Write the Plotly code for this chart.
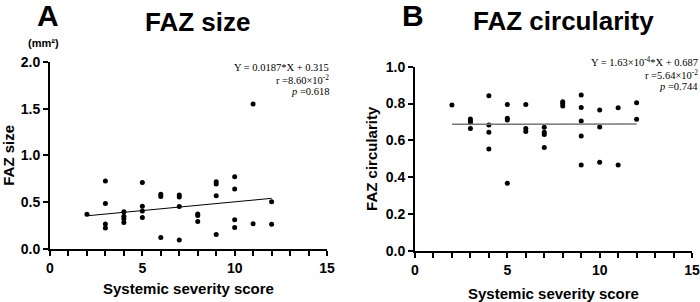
import plotly.graph_objects as go

# ---- Data ----
size_x = [2, 3, 3, 3, 3, 4, 4, 4, 4, 5, 5, 5, 5, 6, 6, 6, 7, 7, 7, 7,
          8, 8, 8, 9, 9, 9, 9, 10, 10, 10, 10, 11, 11, 12, 12]
size_y = [0.37, 0.725, 0.484, 0.265, 0.222, 0.395, 0.348, 0.322, 0.28,
          0.708, 0.454, 0.403, 0.335, 0.582, 0.56, 0.12, 0.575, 0.555, 0.452, 0.094,
          0.371, 0.355, 0.292, 0.716, 0.694, 0.567, 0.153, 0.772, 0.639, 0.31, 0.228,
          1.55, 0.266, 0.502, 0.262]

circ_x = [2, 3, 3, 3, 3, 4, 4, 4, 4, 5, 5, 5, 5, 6, 6, 6, 7, 7, 7, 7,
          8, 8, 8, 9, 9, 9, 9, 9, 10, 10, 10, 11, 11, 12, 12]
circ_y = [0.792, 0.716, 0.706, 0.696, 0.665, 0.842, 0.684, 0.644, 0.553,
          0.795, 0.72, 0.711, 0.368, 0.795, 0.665, 0.648, 0.672, 0.645, 0.632, 0.562,
          0.81, 0.8, 0.787, 0.847, 0.778, 0.706, 0.624, 0.467, 0.765, 0.673, 0.481,
          0.777, 0.467, 0.805, 0.715]

size_fit = {"slope": 0.0187, "intercept": 0.315, "x": [2, 12]}
circ_fit = {"slope": 1.63e-4, "intercept": 0.687, "x": [2, 12]}

x_ticks = [0, 5, 10, 15]
size_ticks = [0.0, 0.5, 1.0, 1.5, 2.0]
circ_ticks = [0.0, 0.2, 0.4, 0.6, 0.8, 1.0]

fit_size_y = [size_fit["slope"] * v + size_fit["intercept"] for v in size_fit["x"]]
fit_circ_y = [circ_fit["slope"] * v + circ_fit["intercept"] for v in circ_fit["x"]]

SANS = "Liberation Sans, Arial, sans-serif"
SERIF = "Liberation Serif, Times New Roman, serif"

fig = go.Figure()
fig.add_trace(go.Scatter(x=size_x, y=size_y, mode="markers",
                         marker=dict(color="black", size=5), xaxis="x", yaxis="y",
                         cliponaxis=False))
fig.add_trace(go.Scatter(x=size_fit["x"], y=fit_size_y, mode="lines",
                         line=dict(color="black", width=1), xaxis="x", yaxis="y"))
fig.add_trace(go.Scatter(x=circ_x, y=circ_y, mode="markers",
                         marker=dict(color="black", size=5), xaxis="x2", yaxis="y2",
                         cliponaxis=False))
fig.add_trace(go.Scatter(x=circ_fit["x"], y=fit_circ_y, mode="lines",
                         line=dict(color="#777777", width=1.5), xaxis="x2", yaxis="y2"))

common_axis = dict(showline=True, linecolor="black", linewidth=2, showgrid=False,
                   zeroline=False, ticks="outside", ticklen=5, tickwidth=2,
                   tickcolor="black", automargin=False,
                   tickfont=dict(family=SANS, size=14, color="black", weight="bold"))

def xaxis_common(standoff):
    return dict(common_axis, range=[0, 15], tickvals=x_ticks,
                minor=dict(dtick=1, ticks="outside", ticklen=5, tickwidth=2,
                           tickcolor="black"),
                title=dict(text="Systemic severity score",
                           font=dict(family=SANS, size=15, color="black", weight="bold"),
                           standoff=standoff))

fig.update_layout(
    template="none",
    width=700, height=302,
    margin=dict(l=0, r=0, t=0, b=0),
    paper_bgcolor="white", plot_bgcolor="white",
    showlegend=False,
    xaxis=dict(xaxis_common(9), domain=[50 / 700, 327 / 700], anchor="y"),
    yaxis=dict(common_axis, range=[0, 2.0], tickvals=size_ticks,
               ticktext=[f"{v:.1f}" for v in size_ticks],
               domain=[53.3 / 302, 240 / 302], anchor="x",
               title=dict(text="FAZ size",
                          font=dict(family=SANS, size=15, color="black", weight="bold"),
                          standoff=6)),
    xaxis2=dict(xaxis_common(12), domain=[415 / 700, 692 / 700], anchor="y2"),
    yaxis2=dict(common_axis, range=[0, 1.0], tickvals=circ_ticks,
                ticktext=[f"{v:.1f}" for v in circ_ticks],
                domain=[51 / 302, 235.3 / 302], anchor="x2",
                title=dict(text="FAZ circularity",
                           font=dict(family=SANS, size=15, color="black", weight="bold"),
                           standoff=4)),
)

ann = []
def t(text, x, y, size, family=SANS, bold=True, xanchor="center"):
    ann.append(dict(text=text, x=x, y=y, xref="paper", yref="paper",
                    xanchor=xanchor, yanchor="middle", showarrow=False,
                    borderpad=0,
                    font=dict(family=family, size=size, color="black",
                              weight="bold" if bold else "normal")))

# panel letters and titles
t("A", 48 / 700, 1 - 15 / 302, 30)
t("FAZ size", 197 / 700, 1 - 22 / 302, 26)
t("(mm²)", 43 / 700, 1 - 43 / 302, 11)
t("B", 413 / 700, 1 - 15 / 302, 30)
t("FAZ circularity", 563 / 700, 1 - 21 / 302, 26)

# statistics
t("Y = 0.0187*X + 0.315", 330 / 700, 1 - 67 / 302, 10.5, SERIF, False, "right")
t("r =8.60×10<sup>-2</sup>", 330 / 700, 1 - 79 / 302, 10.5, SERIF, False, "right")
t("<i>p</i> =0.618", 330 / 700, 1 - 91 / 302, 10.5, SERIF, False, "right")
t("Y = 1.63×10<sup>-4</sup>*X + 0.687", 699 / 700, 1 - 62 / 302, 10.5, SERIF, False, "right")
t("r =5.64×10<sup>-2</sup>", 699 / 700, 1 - 74 / 302, 10.5, SERIF, False, "right")
t("<i>p</i> =0.744", 699 / 700, 1 - 86 / 302, 10.5, SERIF, False, "right")

fig.update_layout(annotations=ann)
fig.write_html("out.html", config={"displayModeBar": False},
               post_script="document.body.style.margin='0';document.body.style.overflow='hidden';")
